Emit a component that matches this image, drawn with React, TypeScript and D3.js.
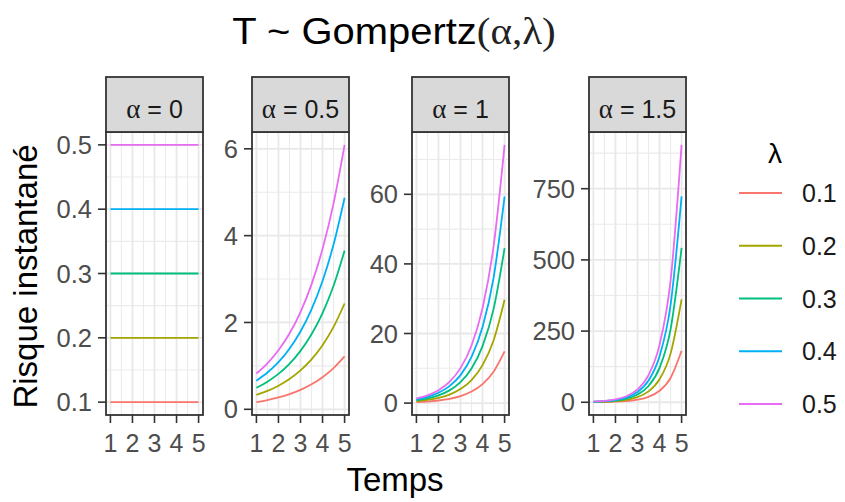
import React from "react";
import * as d3 from "d3";

// Time grid shared by every panel
const times = [1, 1.5, 2, 2.5, 3, 3.5, 4, 4.5, 5];
const xTicks = [1, 2, 3, 4, 5];

// Legend / series keys
const lambdaLabels = ["0.1", "0.2", "0.3", "0.4", "0.5"];
const seriesColors = ["#F8766D", "#A3A500", "#00BF7D", "#00B0F6", "#E76BF3"];

// Facet labels
const alphaLabels = ["0", "0.5", "1", "1.5"];

// Hazard values, one row per lambda, one column per time
const hazardAlpha0 = [
  [0.1, 0.1, 0.1, 0.1, 0.1, 0.1, 0.1, 0.1, 0.1],
  [0.2, 0.2, 0.2, 0.2, 0.2, 0.2, 0.2, 0.2, 0.2],
  [0.3, 0.3, 0.3, 0.3, 0.3, 0.3, 0.3, 0.3, 0.3],
  [0.4, 0.4, 0.4, 0.4, 0.4, 0.4, 0.4, 0.4, 0.4],
  [0.5, 0.5, 0.5, 0.5, 0.5, 0.5, 0.5, 0.5, 0.5],
];
const hazardAlpha05 = [
  [0.165, 0.212, 0.272, 0.349, 0.448, 0.576, 0.739, 0.949, 1.218],
  [0.33, 0.423, 0.544, 0.698, 0.896, 1.151, 1.478, 1.898, 2.437],
  [0.495, 0.635, 0.815, 1.047, 1.345, 1.727, 2.217, 2.846, 3.655],
  [0.66, 0.847, 1.087, 1.396, 1.793, 2.302, 2.956, 3.795, 4.873],
  [0.824, 1.058, 1.359, 1.745, 2.241, 2.878, 3.695, 4.744, 6.091],
];
const hazardAlpha1 = [
  [0.272, 0.448, 0.739, 1.218, 2.009, 3.312, 5.46, 9.002, 14.84],
  [0.544, 0.896, 1.478, 2.437, 4.017, 6.624, 10.92, 18.0, 29.68],
  [0.815, 1.345, 2.217, 3.655, 6.026, 9.936, 16.38, 27.01, 44.52],
  [1.087, 1.793, 2.956, 4.873, 8.034, 13.25, 21.84, 36.01, 59.37],
  [1.359, 2.241, 3.695, 6.091, 10.04, 16.56, 27.3, 45.01, 74.21],
];
const hazardAlpha15 = [
  [0.448, 0.949, 2.009, 4.252, 9.002, 19.06, 40.34, 85.41, 180.8],
  [0.896, 1.898, 4.017, 8.504, 18.0, 38.12, 80.69, 170.8, 361.6],
  [1.345, 2.846, 6.026, 12.76, 27.01, 57.18, 121.0, 256.2, 542.4],
  [1.793, 3.795, 8.034, 17.01, 36.01, 76.24, 161.4, 341.6, 723.2],
  [2.241, 4.744, 10.04, 21.26, 45.01, 95.3, 201.7, 427.0, 904.0],
];

// Y tick values per panel
const yTicksAlpha0 = [0.1, 0.2, 0.3, 0.4, 0.5];
const yTicksAlpha05 = [0, 2, 4, 6];
const yTicksAlpha1 = [0, 20, 40, 60];
const yTicksAlpha15 = [0, 250, 500, 750];

const panelData = [hazardAlpha0, hazardAlpha05, hazardAlpha1, hazardAlpha15];
const panelTicks = [yTicksAlpha0, yTicksAlpha05, yTicksAlpha1, yTicksAlpha15];

const SANS = "'Liberation Sans', Arial, Helvetica, sans-serif";
const SERIF = "'Liberation Serif', 'DejaVu Serif', serif";

const W = 845;
const H = 502;
const panelLefts = [106, 252, 412, 589];
const panelW = 97;
const stripTop = 77;
const plotTop = 132;
const plotBottom = 415;

function expand(lo: number, hi: number): [number, number] {
  const pad = (hi - lo) * 0.05;
  return [lo - pad, hi + pad];
}

function minorBreaks(ticks: number[], domain: [number, number]) {
  const step = ticks[1] - ticks[0];
  const out: number[] = [];
  for (let v = ticks[0] - step / 2; v <= domain[1]; v += step) {
    if (v >= domain[0]) out.push(v);
  }
  return out;
}

function fmt(v: number) {
  return d3.format("~g")(v);
}

function Panel({ idx }: { idx: number }) {
  const left = panelLefts[idx];
  const right = left + panelW;
  const data = panelData[idx];
  const ticks = panelTicks[idx];
  const all = data.flat();
  const yDomain = expand(d3.min(all)!, d3.max(all)!);
  const xDomain = expand(times[0], times[times.length - 1]);
  const x = d3.scaleLinear().domain(xDomain).range([left, right]);
  const y = d3.scaleLinear().domain(yDomain).range([plotBottom, plotTop]);
  const yMinor = minorBreaks(ticks, yDomain);
  const xMinor = minorBreaks(xTicks, xDomain);
  const line = d3
    .line<number>()
    .x((_, i) => x(times[i]))
    .y((d) => y(d))
    .curve(d3.curveMonotoneX);
  const clipId = `clip-${idx}`;
  const cx = (left + right) / 2;

  return (
    <g>
      <defs>
        <clipPath id={clipId}>
          <rect x={left} y={plotTop} width={panelW} height={plotBottom - plotTop} />
        </clipPath>
      </defs>
      <rect x={left} y={plotTop} width={panelW} height={plotBottom - plotTop} fill="#FFFFFF" />
      {/* minor grid */}
      {yMinor.map((v) => (
        <line key={`ym${v}`} x1={left} x2={right} y1={y(v)} y2={y(v)} stroke="#EBEBEB" strokeWidth={1.1} />
      ))}
      {xMinor.map((v) => (
        <line key={`xm${v}`} x1={x(v)} x2={x(v)} y1={plotTop} y2={plotBottom} stroke="#EBEBEB" strokeWidth={1.1} />
      ))}
      {/* major grid */}
      {ticks.map((v) => (
        <line key={`yM${v}`} x1={left} x2={right} y1={y(v)} y2={y(v)} stroke="#E8E8E8" strokeWidth={1.8} />
      ))}
      {xTicks.map((v) => (
        <line key={`xM${v}`} x1={x(v)} x2={x(v)} y1={plotTop} y2={plotBottom} stroke="#E8E8E8" strokeWidth={1.8} />
      ))}
      {/* series */}
      <g clipPath={`url(#${clipId})`}>
        {data.map((s, i) => (
          <path key={i} d={line(s) || ""} fill="none" stroke={seriesColors[i]} strokeWidth={1.8} />
        ))}
      </g>
      {/* border */}
      <rect x={left} y={plotTop} width={panelW} height={plotBottom - plotTop} fill="none" stroke="#333333" strokeWidth={1.8} />
      {/* strip */}
      <rect x={left} y={stripTop} width={panelW} height={plotTop - stripTop} fill="#D9D9D9" stroke="#333333" strokeWidth={1.8} />
      <text x={cx} y={118} textAnchor="middle" fontSize={25} fill="#1A1A1A" fontFamily={SANS}>
        <tspan fontFamily={SERIF} fontSize={27}>α</tspan>
        <tspan> = {alphaLabels[idx]}</tspan>
      </text>
      {/* y axis */}
      {ticks.map((v) => (
        <g key={`yt${v}`}>
          <line x1={left - 8} x2={left} y1={y(v)} y2={y(v)} stroke="#333333" strokeWidth={1.6} />
          <text x={left - 14} y={y(v)} dy="0.36em" textAnchor="end" fontSize={25.5} fill="#4D4D4D" fontFamily={SANS}>
            {fmt(v)}
          </text>
        </g>
      ))}
      {/* x axis */}
      {xTicks.map((v) => (
        <g key={`xt${v}`}>
          <line x1={x(v)} x2={x(v)} y1={plotBottom} y2={plotBottom + 8} stroke="#333333" strokeWidth={1.6} />
          <text x={x(v)} y={452} textAnchor="middle" fontSize={25} fill="#4D4D4D" fontFamily={SANS}>
            {v}
          </text>
        </g>
      ))}
    </g>
  );
}

export default function App() {
  const legendY = d3.scalePoint<string>().domain(lambdaLabels).range([193, 404]);
  return (
    <svg width={W} height={H} style={{ position: "absolute", left: 0, top: 0, background: "#FFFFFF" }}>
      <rect x={0} y={0} width={W} height={H} fill="#FFFFFF" />
      <text
        transform="translate(394, 44) scale(1.08, 1)"
        textAnchor="middle"
        fontSize={37}
        fill="#000000"
        fontFamily={SANS}
      >
        <tspan>T ~ Gompertz</tspan>
        <tspan fontFamily={SERIF} fill="#222222" fontSize={38}>(α,λ)</tspan>
      </text>
      {alphaLabels.map((_, i) => (
        <Panel key={i} idx={i} />
      ))}
      <text x={395} y={491} textAnchor="middle" fontSize={33} fill="#000000" fontFamily={SANS}>
        Temps
      </text>
      <text
        transform={`translate(37, ${(plotTop + plotBottom) / 2 + 3}) rotate(-90)`}
        textAnchor="middle"
        fontSize={33}
        fill="#000000"
        fontFamily={SANS}
      >
        Risque instantané
      </text>
      {/* legend */}
      <text x={775} y={163} textAnchor="middle" fontSize={28} fill="#000000" fontFamily={SANS}>
        λ
      </text>
      {lambdaLabels.map((l, i) => (
        <g key={l}>
          <line x1={739} x2={782} y1={legendY(l)!} y2={legendY(l)!} stroke={seriesColors[i]} strokeWidth={1.8} />
          <text x={802} y={legendY(l)!} dy="0.36em" fontSize={25} fill="#1A1A1A" fontFamily={SANS}>
            {l}
          </text>
        </g>
      ))}
    </svg>
  );
}
